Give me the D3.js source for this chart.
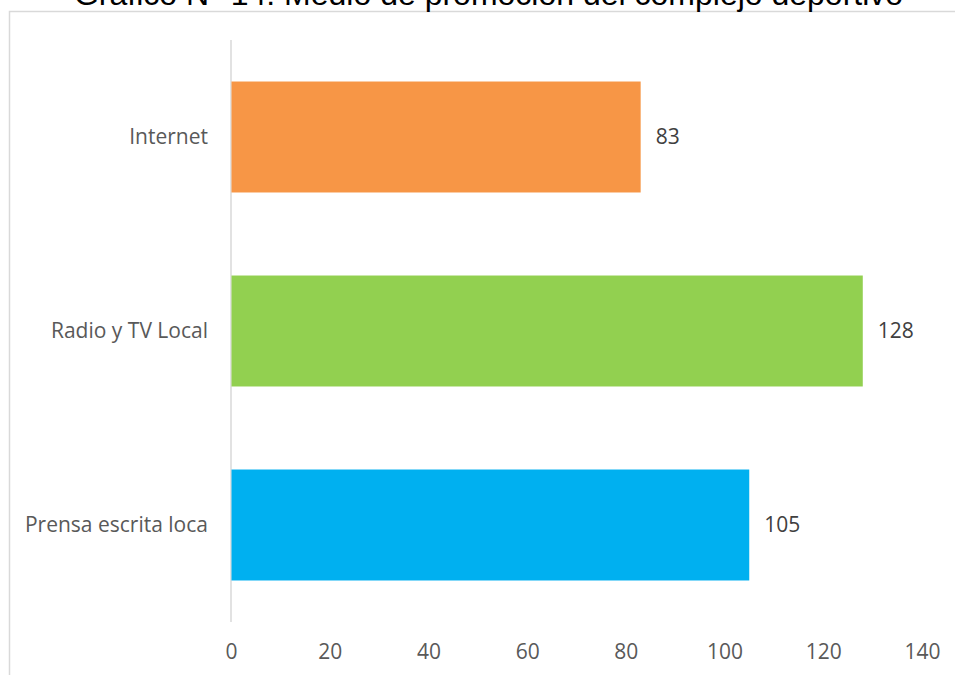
<!DOCTYPE html>
<html>
<head>
<meta charset="utf-8">
<script src="https://cdn.jsdelivr.net/npm/d3@7/dist/d3.min.js"></script>
<style>
  html, body { margin: 0; padding: 0; background: #ffffff; overflow: hidden; }
  svg { display: block; }
</style>
</head>
<body>
<svg id="chart" width="955" height="675"></svg>
<script>
// Medio de promoción del complejo deportivo
const categories = ["Internet", "Radio y TV Local", "Prensa escrita loca"];
const values = [83, 128, 105];
const barColors = ["#f79646", "#92d050", "#00b0f0"];
const xTicks = [0, 20, 40, 60, 80, 100, 120, 140];
const titleText = "Gráfico N° 14: Medio de promoción del complejo deportivo";

const svg = d3.select("#chart");
const labelFont = "'Open Sans', 'Noto Sans', sans-serif";
const labelSize = 21;

// chart frame (only left and top edges fall inside the page)
svg.append("path")
  .attr("d", "M9.5,675 V11.5 H955")
  .attr("fill", "none")
  .attr("stroke", "#d9d9d9").attr("stroke-width", 1.5);

// title
svg.append("text")
  .attr("x", 488.5).attr("y", 5)
  .attr("text-anchor", "middle")
  .attr("font-family", "'Liberation Sans', Arial, sans-serif")
  .attr("font-size", 32)
  .attr("fill", "#000000")
  .text(titleText);

const x = d3.scaleLinear().domain([0, 140]).range([231, 922]);
const y = d3.scaleBand().domain(categories).range([40, 622])
  .paddingInner(0.428).paddingOuter(0.214);

// category axis line
svg.append("line")
  .attr("x1", x(0)).attr("x2", x(0))
  .attr("y1", 40).attr("y2", 622)
  .attr("stroke", "#d9d9d9").attr("stroke-width", 1.5);

// bars
svg.selectAll("rect.bar")
  .data(categories)
  .join("rect")
  .attr("class", "bar")
  .attr("x", x(0) + 0.5)
  .attr("y", d => y(d))
  .attr("width", (d, i) => x(values[i]) - x(0) - 0.5)
  .attr("height", y.bandwidth())
  .attr("fill", (d, i) => barColors[i]);

// value labels
svg.selectAll("text.val")
  .data(categories)
  .join("text")
  .attr("class", "val")
  .attr("x", (d, i) => x(values[i]) + 15)
  .attr("y", d => y(d) + y.bandwidth() / 2)
  .attr("dy", "0.35em")
  .attr("font-family", labelFont)
  .attr("font-size", labelSize)
  .attr("fill", "#404040")
  .text((d, i) => values[i]);

// category labels
svg.selectAll("text.cat")
  .data(categories)
  .join("text")
  .attr("class", "cat")
  .attr("x", x(0) - 23)
  .attr("y", d => y(d) + y.bandwidth() / 2)
  .attr("dy", "0.35em")
  .attr("text-anchor", "end")
  .attr("font-family", labelFont)
  .attr("font-size", labelSize)
  .attr("fill", "#595959")
  .text(d => d);

// value axis tick labels
const xAxis = d3.axisBottom(x).tickValues(xTicks).tickSize(0).tickPadding(0);
const gx = svg.append("g").attr("transform", "translate(0,646)").call(xAxis);
gx.select(".domain").remove();
gx.selectAll("text")
  .attr("font-family", labelFont)
  .attr("font-size", labelSize)
  .attr("fill", "#595959")
  .attr("dy", "0.35em")
  .attr("y", 6);
</script>
</body>
</html>
